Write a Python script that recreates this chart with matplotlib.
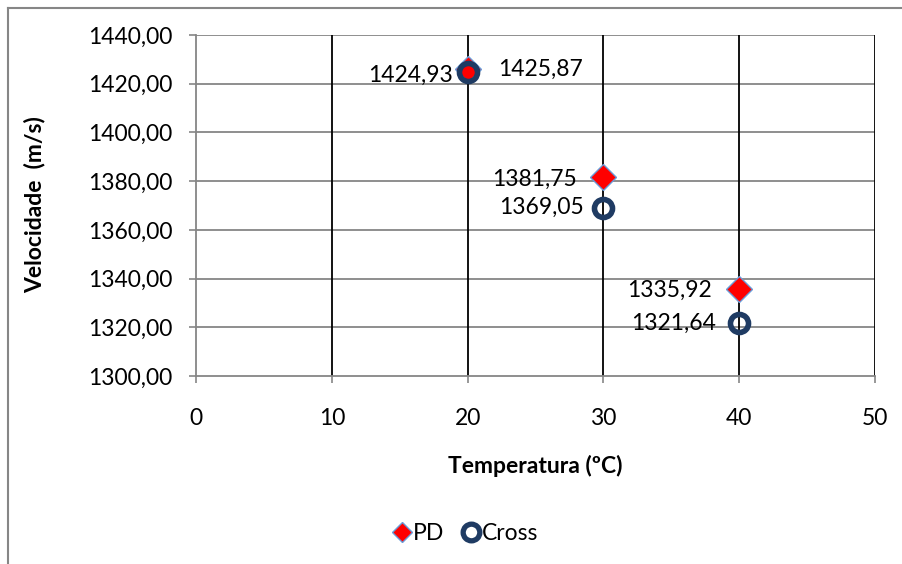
import matplotlib
matplotlib.use("Agg")
import matplotlib.pyplot as plt
from matplotlib.lines import Line2D
from matplotlib.ticker import FuncFormatter

temps = [20, 30, 40]
pd_vals = [1425.87, 1381.75, 1335.92]
cross_vals = [1424.93, 1369.05, 1321.64]
pd_labels = ["1425,87", "1381,75", "1335,92"]
cross_labels = ["1424,93", "1369,05", "1321,64"]
x_ticks = [0, 10, 20, 30, 40, 50]
y_ticks = [1300, 1320, 1340, 1360, 1380, 1400, 1420, 1440]

plt.rcParams['font.family'] = ['Lato', 'DejaVu Sans']
FS = 16.5

fig = plt.figure(figsize=(9.02, 5.64), dpi=100)
ax = fig.add_axes([196/902, 1 - 376/564, (875-196)/902, (376-35)/564])

ax.set_xlim(0, 50)
ax.set_ylim(1300, 1440)
ax.set_xticks(x_ticks)
ax.set_yticks(y_ticks)
ax.yaxis.set_major_formatter(FuncFormatter(lambda v, p: f"{v:.2f}".replace(".", ",")))
ax.tick_params(axis='both', labelsize=FS, color='#868686', length=5, width=1.2, direction='out')
ax.tick_params(axis='x', pad=18)
ax.tick_params(axis='y', pad=12)

for v in y_ticks[1:]:
    ax.axhline(v, color='#868686', lw=1.3, zorder=1)
for v in x_ticks[1:]:
    ax.axvline(v, color='black', lw=1.3, zorder=1.5)

for s in ['top', 'right']:
    ax.spines[s].set_visible(False)
for s in ['left', 'bottom']:
    ax.spines[s].set_color('#868686')
    ax.spines[s].set_linewidth(1.3)

ax.plot(temps, pd_vals, linestyle='none', marker='D', markersize=13,
        markerfacecolor='#FF0000', markeredgecolor='#6A9BD8', markeredgewidth=1.0,
        label='PD', zorder=3)
ax.plot(temps, cross_vals, linestyle='none', marker='o', markersize=13,
        markerfacecolor='none', markeredgecolor='#1F3B63', markeredgewidth=4,
        label='Cross', zorder=4)

# labels
pd_offsets = [(31, 0, 'left'), (-27, -2, 'right'), (-27, -2, 'right')]
cross_offsets = [(-15, -4, 'right'), (-20, 0, 'right'), (-23, 0, 'right')]
for x, y, t, (dx, dy, ha) in zip(temps, pd_vals, pd_labels, pd_offsets):
    ax.annotate(t, (x, y), xytext=(dx, dy), textcoords='offset pixels',
                ha=ha, va='center', fontsize=FS, zorder=5)
for x, y, t, (dx, dy, ha) in zip(temps, cross_vals, cross_labels, cross_offsets):
    ax.annotate(t, (x, y), xytext=(dx, dy), textcoords='offset pixels',
                ha=ha, va='center', fontsize=FS, zorder=5)

fig.text(35/902, 1 - 205/564, 'Velocidade  (m/s)', rotation=90, ha='center', va='center',
         fontsize=FS, fontweight='bold')
fig.text(535/902, 1 - 466/564, 'Temperatura (ºC)', ha='center', va='center',
         fontsize=FS, fontweight='bold')

handles = [
    Line2D([], [], linestyle='none', marker='D', markersize=10, markerfacecolor='#FF0000',
           markeredgecolor='#6A9BD8', markeredgewidth=1.0),
    Line2D([], [], linestyle='none', marker='o', markersize=12, markerfacecolor='white',
           markeredgecolor='#1F3B63', markeredgewidth=3.8),
]
fig.legend(handles, ['PD', 'Cross'], loc='center', bbox_to_anchor=(466/902, 1 - 534/564),
           ncol=2, frameon=False, fontsize=FS, handlelength=0.7, handletextpad=0.15,
           columnspacing=0.8)

# outer chart frame (top and left visible)
fig.add_artist(Line2D([8/902, 1], [1 - 8/564, 1 - 8/564], color='#868686', lw=1.5,
                      transform=fig.transFigure))
fig.add_artist(Line2D([8/902, 8/902], [0, 1 - 8/564], color='#868686', lw=1.5,
                      transform=fig.transFigure))

fig.savefig('out.png', dpi=100)
